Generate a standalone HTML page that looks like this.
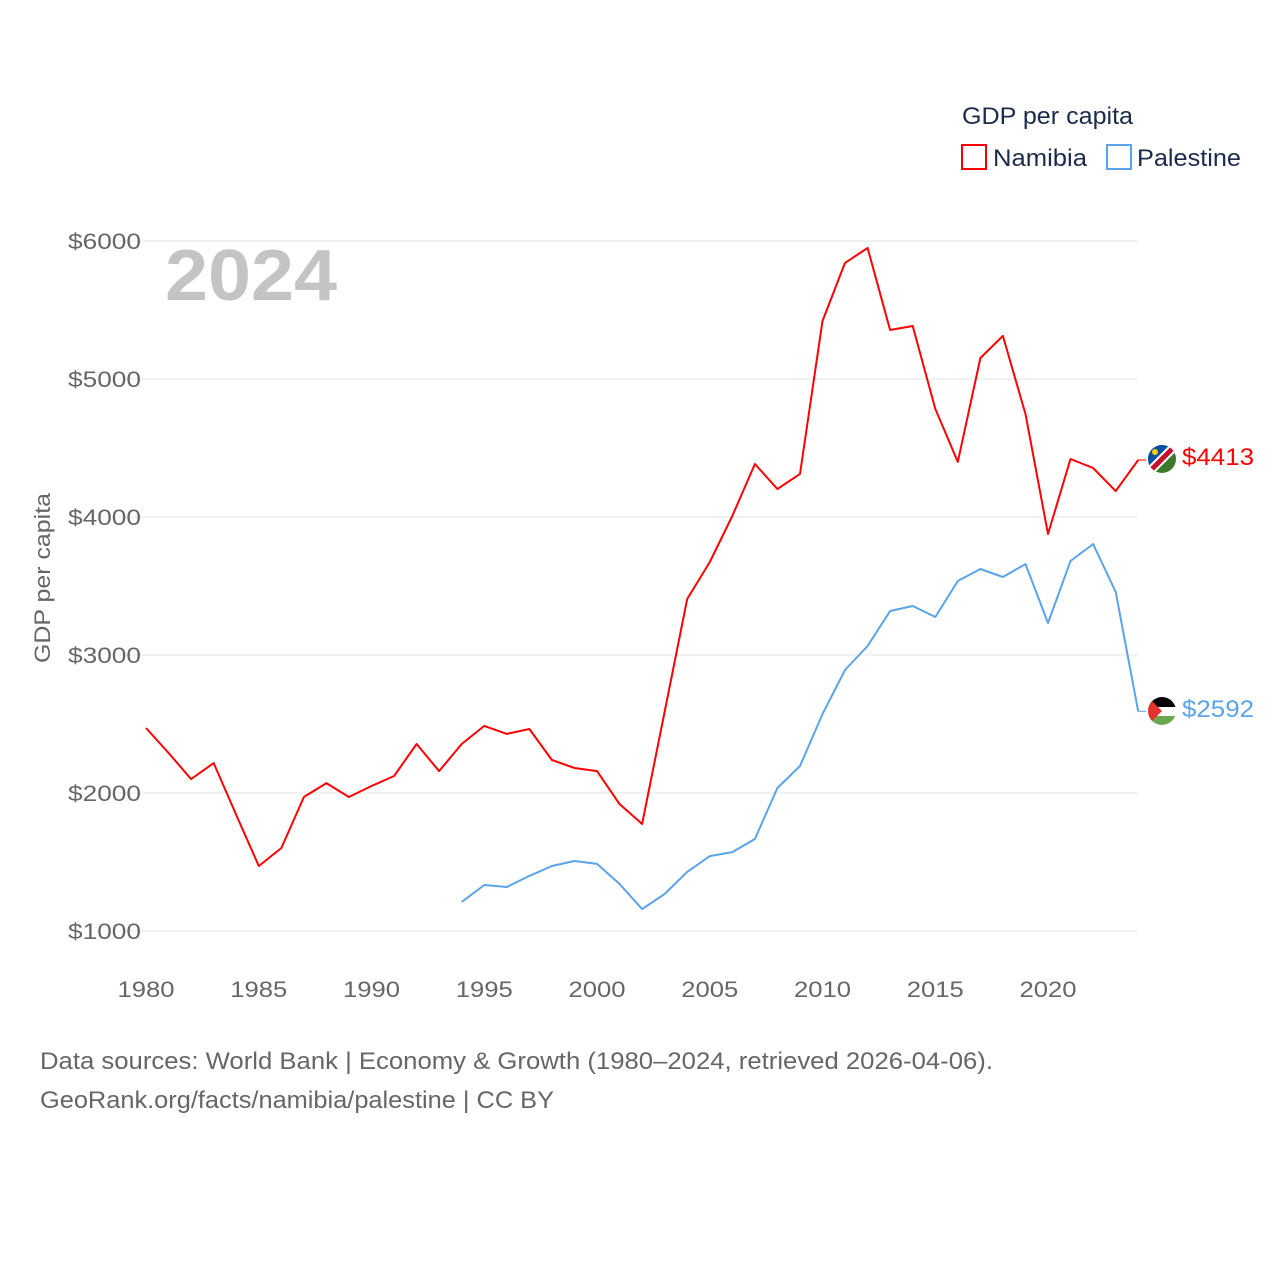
<!DOCTYPE html>
<html><head><meta charset="utf-8"><style>
body{margin:0;background:#fff;width:1280px;height:1280px;overflow:hidden;font-family:"Liberation Sans",sans-serif}
</style></head><body>
<svg id="chart" width="1280" height="1280" xmlns="http://www.w3.org/2000/svg" font-family="Liberation Sans, sans-serif">
<text x="962" y="124" font-size="24" fill="#1d2b4a" textLength="171" lengthAdjust="spacingAndGlyphs">GDP per capita</text>
<g><rect x="962" y="145" width="24" height="24" fill="none" stroke="#f00" stroke-width="2"/><text x="993" y="166" font-size="24" fill="#1d2b4a" textLength="94" lengthAdjust="spacingAndGlyphs">Namibia</text></g>
<g><rect x="1107" y="145" width="24" height="24" fill="none" stroke="#5ba3ea" stroke-width="2"/><text x="1137" y="166" font-size="24" fill="#1d2b4a" textLength="104" lengthAdjust="spacingAndGlyphs">Palestine</text></g>
<text x="165" y="300" font-size="72" font-weight="bold" fill="#c4c4c4" textLength="172" lengthAdjust="spacingAndGlyphs">2024</text>
<text transform="translate(50,578) rotate(-90)" text-anchor="middle" font-size="22" fill="#666" textLength="170" lengthAdjust="spacingAndGlyphs">GDP per capita</text>
<g id="grid"></g><g id="xt"></g><g id="lines"></g>
<text x="40" y="1069" font-size="24" fill="#666" textLength="953" lengthAdjust="spacingAndGlyphs">Data sources: World Bank | Economy &amp; Growth (1980–2024, retrieved 2026-04-06).</text>
<text x="40" y="1108" font-size="24" fill="#666" textLength="514" lengthAdjust="spacingAndGlyphs">GeoRank.org/facts/namibia/palestine | CC BY</text>
<g>
<clipPath id="c1"><circle cx="1162" cy="459" r="14"/></clipPath>
<g clip-path="url(#c1)"><rect x="1148" y="445" width="28" height="28" fill="#3c7a2a"/><polygon points="1148,445 1176,445 1148,473" fill="#0a4fa6"/><line x1="1148" y1="473" x2="1176" y2="445" stroke="#fff" stroke-width="9"/><line x1="1148" y1="473" x2="1176" y2="445" stroke="#c8102e" stroke-width="5"/><circle cx="1155" cy="452" r="3" fill="#ffce00"/></g></g>
<text x="1182" y="465" font-size="24" fill="#f00" textLength="72" lengthAdjust="spacingAndGlyphs">$4413</text>
<g>
<clipPath id="c2"><circle cx="1162" cy="711" r="14"/></clipPath>
<g clip-path="url(#c2)"><rect x="1148" y="697" width="28" height="10" fill="#000"/><rect x="1148" y="707" width="28" height="9" fill="#fff"/><rect x="1148" y="716" width="28" height="10" fill="#6aa84f"/><polygon points="1148,697 1162,711 1148,725" fill="#e4312b"/></g></g>
<text x="1182" y="717" font-size="24" fill="#5ba3ea" textLength="72" lengthAdjust="spacingAndGlyphs">$2592</text>
</svg>
<script>
const years=[1980,1981,1982,1983,1984,1985,1986,1987,1988,1989,1990,1991,1992,1993,1994,1995,1996,1997,1998,1999,2000,2001,2002,2003,2004,2005,2006,2007,2008,2009,2010,2011,2012,2013,2014,2015,2016,2017,2018,2019,2020,2021,2022,2023,2024];
const namibia=[2471,2290,2101,2217,1841,1471,1601,1971,2072,1971,2051,2123,2355,2159,2355,2486,2428,2464,2239,2181,2159,1920,1775,2587,3406,3674,4007,4384,4203,4312,5420,5841,5949,5355,5384,4783,4399,5152,5312,4746,3877,4420,4355,4188,4413];
const palestine=[null,null,null,null,null,null,null,null,null,null,null,null,null,null,1210,1333,1319,1399,1471,1507,1486,1341,1159,1268,1428,1543,1572,1667,2036,2196,2572,2891,3065,3319,3355,3275,3536,3623,3565,3659,3232,3681,3804,3457,2592];
const yTicks=[1000,2000,3000,4000,5000,6000];
const xTicks=[1980,1985,1990,1995,2000,2005,2010,2015,2020];
const NS="http://www.w3.org/2000/svg";
const X=y=>146+(y-1980)*(1048-146)/40;
const Y=v=>931-(v-1000)*(931-241)/5000;
function mk(t,a,p){const e=document.createElementNS(NS,t);for(const k in a)e.setAttribute(k,a[k]);p.appendChild(e);return e;}
const g=document.getElementById('grid');
yTicks.forEach(v=>{
 const l=mk('line',{x1:118,x2:1138,y1:Y(v),y2:Y(v),stroke:'#e4e4e4','stroke-width':1},g);
 
 
 const t=mk('text',{x:141,y:Y(v)+8,'text-anchor':'end','font-size':22,fill:'#666',textLength:73,lengthAdjust:'spacingAndGlyphs'},g);
 
 
 t.textContent='$'+v;
});
const xt=document.getElementById('xt');
xTicks.forEach(v=>{
 const t=mk('text',{x:X(v),y:997,'text-anchor':'middle','font-size':22,fill:'#666',textLength:57,lengthAdjust:'spacingAndGlyphs'},xt);
 
 
 t.textContent=v;
});
const L=document.getElementById('lines');
function draw(vals,color,name){
 let d='';let started=false;
 vals.forEach((v,i)=>{if(v==null)return;d+=(started?'L':'M')+X(years[i]).toFixed(1)+','+Y(v).toFixed(1);started=true;});
 const p=mk('path',{d:d,fill:'none',stroke:color,'stroke-width':2,'stroke-linejoin':'round'},L);
 
 
 const last=vals[vals.length-1];
 const s=mk('line',{x1:X(2024),x2:X(2024)+8,y1:Y(last),y2:Y(last),stroke:color,'stroke-width':1},L);
 
 
}
draw(namibia,'#f00','namibia-line');
draw(palestine,'#5ba3ea','palestine-line');
</script>
</body></html>
